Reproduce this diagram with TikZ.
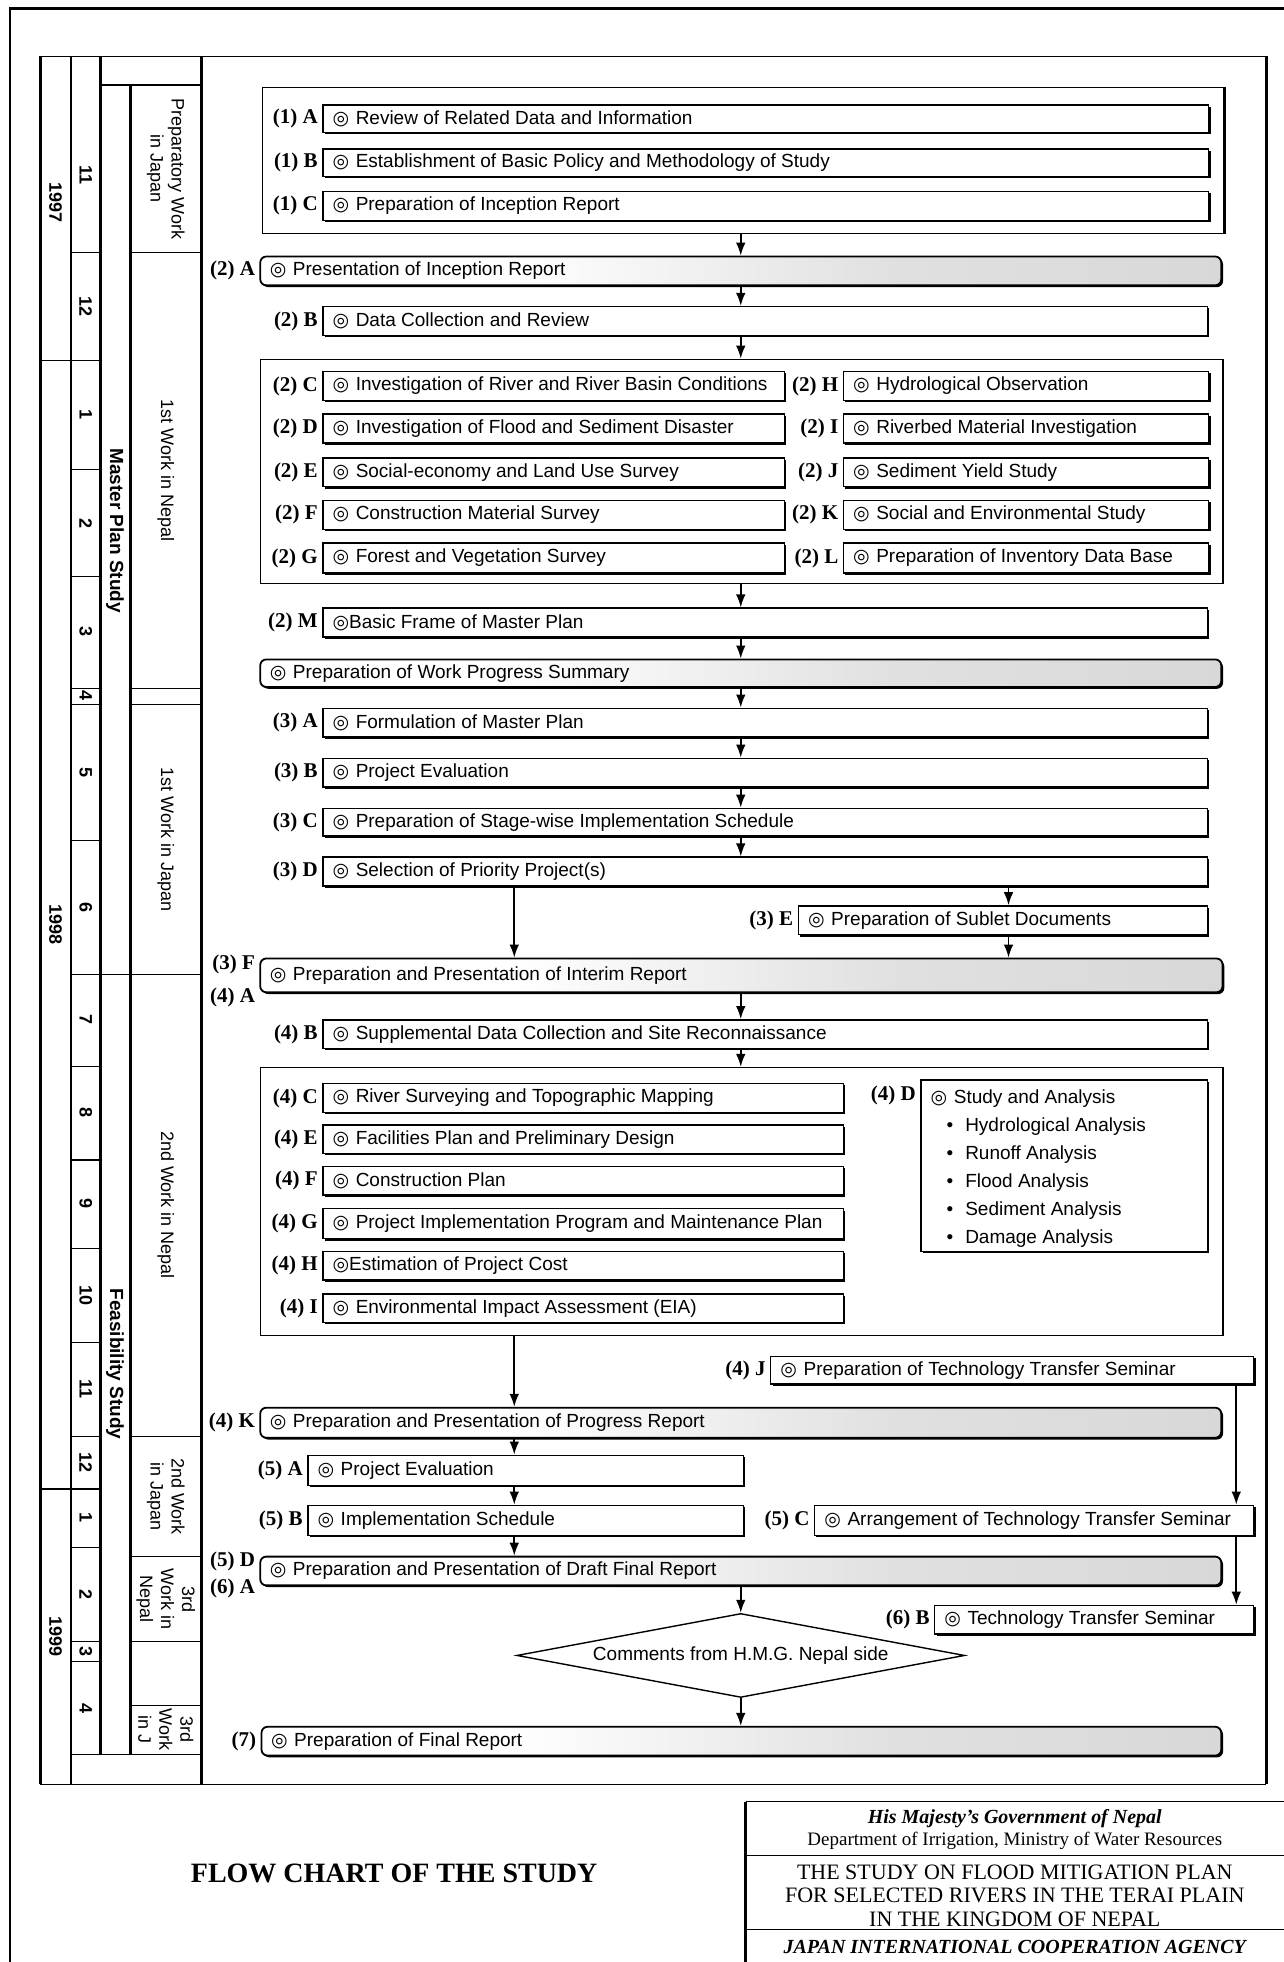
\documentclass[tikz,border=0pt]{standalone}
\usepackage{fontspec}
\setmainfont{Liberation Serif}
\setsansfont{Liberation Sans}
\newfontfamily\symf{DejaVu Sans}
\usetikzlibrary{arrows.meta,shadows,shapes.geometric,calc}
\pgfdeclarehorizontalshading{grayfade}{100bp}{color(0bp)=(white); color(38bp)=(white); color(58bp)=(black!12); color(100bp)=(black!20)}
\newcommand\dc{{\symf ◎}\hspace{0.35em}}
\newcommand\mkrect[6]{%
  \pgfmathsetmacro\bxc{(#3+#5)/2}%
  \pgfmathsetmacro\byc{(#4+#6)/2}%
  \pgfmathsetmacro\bxw{(#5-#3)*0.6258}%
  \pgfmathsetmacro\byh{(#6-#4)*0.6258}%
  \node[#1, minimum width=\bxw pt, minimum height=\byh pt] (#2) at (\bxc,\byc) {};}
\newcommand\mkbox[7]{%
  \mkrect{#1}{#2}{#3}{#4}{#5}{#6}%
  \node[btext, anchor=west] (#2-t) at ([xshift=5pt]#2.west) {\dc #7};}
\newcommand\lab[3]{\node[labf, anchor=east] (#1) at ([xshift=-2pt]#2.west) {#3};}
\tikzset{
  x=0.6258pt, y=-0.6258pt,
  task/.style={draw, line width=0.7pt, fill=white, inner sep=0pt,
    drop shadow={shadow xshift=0.9pt, shadow yshift=-0.9pt, opacity=1, fill=black}},
  rep/.style={draw, line width=0.9pt, rounded corners=3pt, shading=grayfade, inner sep=0pt,
    drop shadow={shadow xshift=0.9pt, shadow yshift=-0.9pt, opacity=1, fill=black}},
  grp/.style={draw, line width=0.5pt, inner sep=0pt},
  btext/.style={font=\sffamily\fontsize{9.5}{11}\selectfont, inner sep=0pt},
  labf/.style={font=\bfseries\fontsize{10.5}{12}\selectfont, inner sep=0pt},
  arr/.style={line width=0.8pt, -{Latex[length=6.5pt,width=4.8pt]}},
  vyr/.style={font=\sffamily\bfseries\fontsize{9}{10}\selectfont, rotate=-90, inner sep=0pt},
  vph/.style={font=\sffamily\fontsize{9}{10.5}\selectfont, rotate=-90, align=center, inner sep=0pt},
  vst/.style={font=\sffamily\bfseries\fontsize{9.5}{11}\selectfont, rotate=-90, inner sep=0pt},
  thin/.style={line width=0.6pt},
  thick2/.style={line width=1.5pt},
}
\begin{document}
\begin{tikzpicture}
\useasboundingbox[fill=white] (0,0) rectangle (1026,1568);
% outer frame
\draw[line width=1.3pt] (8,1568) -- (8,7) -- (1026,7);
% inner frame
\draw[thin] (32,45) -- (1012,45);
\draw[thin] (32,1426) -- (1012,1426);
\draw[thick2] (32,45) -- (32,1426);
\draw[thick2] (1012,45) -- (1012,1426);
% left columns
\draw[line width=1pt] (57,45) -- (57,1426);
\draw[thick2] (80,45) -- (80,1402);
\draw[thick2] (104,68) -- (104,1402);
\draw[thick2] (161,45) -- (161,1426);
\draw[thin] (80,68) -- (161,68);
\foreach \yy in {202,288,375,461,550,563,672,779,852,927,998,1073,1148,1190,1237,1312,1328,1402}
  \draw[thin] (57,\yy) -- (80,\yy);
\foreach \yy in {288,1190} \draw[thin] (32,\yy) -- (57,\yy);
\draw[thin] (80,779) -- (104,779);
\foreach \yy in {202,550,563,779,1148,1244,1312,1363} \draw[thin] (104,\yy) -- (161,\yy);
\draw[thin] (57,1402) -- (161,1402);
% years
\node[vyr] (y97) at (44.5,162) {1997};
\node[vyr] (y98) at (44.5,739) {1998};
\node[vyr] (y99) at (44.5,1308) {1999};
% months
\foreach \nm/\yy/\tx in {m1/140/11,m2/245/12,m3/331/1,m4/418/2,m5/505/3,m6/556/4,m7/617/5,m8/725/6,m9/815/7,m10/889/8,m11/962/9,m12/1035/10,m13/1110/11,m14/1169/12,m15/1213/1,m16/1274/2,m17/1320/3,m18/1365/4}
  \node[vyr] (\nm) at (68.5,\yy) {\tx};
% study columns
\node[vst] (mps) at (92,424) {Master Plan Study};
\node[vst] (fs) at (92,1090) {Feasibility Study};
% phases
\node[vph] (ph1) at (132.5,135) {Preparatory Work\\in Japan};
\node[vph] (ph2) at (132.5,376) {1st Work in Nepal};
\node[vph] (ph3) at (132.5,671) {1st Work in Japan};
\node[vph] (ph4) at (132.5,963) {2nd Work in Nepal};
\node[vph] (ph5) at (132.5,1196) {2nd Work\\in Japan};
\node[vph] (ph6) at (132.5,1278) {3rd\\Work in\\Nepal};
\node[vph] (ph7) at (132.5,1382) {3rd\\Work\\in J};
% group 1
\mkrect{grp}{g1}{210}{70}{978}{187}
\draw[line width=1.3pt] (g1.north east) -- (g1.south east);
\mkbox{task}{A1}{258}{84}{966}{106}{Review of Related Data and Information}
\lab{A1l}{A1}{(1) A}
\mkbox{task}{B1}{258}{119}{966}{141}{Establishment of Basic Policy and Methodology of Study}
\lab{B1l}{B1}{(1) B}
\mkbox{task}{C1}{258}{153}{966}{176}{Preparation of Inception Report}
\lab{C1l}{C1}{(1) C}
\mkbox{rep}{A2}{208}{205}{976}{228}{Presentation of Inception Report}
\lab{A2l}{A2}{(2) A}
\mkbox{task}{B2}{258}{245}{965}{268}{Data Collection and Review}
\lab{B2l}{B2}{(2) B}
% group 2
\mkrect{grp}{g2}{208}{287}{977}{466}
\draw[line width=1.3pt] (g2.north east) -- (g2.south east);
\mkbox{task}{C2}{258}{297}{627}{320}{Investigation of River and River Basin Conditions}
\lab{C2l}{C2}{(2) C}
\mkbox{task}{D2}{258}{331}{627}{354}{Investigation of Flood and Sediment Disaster}
\lab{D2l}{D2}{(2) D}
\mkbox{task}{E2}{258}{366}{627}{389}{Social-economy and Land Use Survey}
\lab{E2l}{E2}{(2) E}
\mkbox{task}{F2}{258}{400}{627}{423}{Construction Material Survey}
\lab{F2l}{F2}{(2) F}
\mkbox{task}{G2}{258}{434}{627}{458}{Forest and Vegetation Survey}
\lab{G2l}{G2}{(2) G}
\mkbox{task}{H2}{674}{297}{966}{320}{Hydrological Observation}
\lab{H2l}{H2}{(2) H}
\mkbox{task}{I2}{674}{331}{966}{354}{Riverbed Material Investigation}
\lab{I2l}{I2}{(2) I}
\mkbox{task}{J2}{674}{366}{966}{389}{Sediment Yield Study}
\lab{J2l}{J2}{(2) J}
\mkbox{task}{K2}{674}{400}{966}{423}{Social and Environmental Study}
\lab{K2l}{K2}{(2) K}
\mkbox{task}{L2}{674}{434}{966}{458}{Preparation of Inventory Data Base}
\lab{L2l}{L2}{(2) L}
\mkbox{task}{M2}{258}{486}{965}{509}{\hspace{-0.35em}Basic Frame of Master Plan}
\lab{M2l}{M2}{(2) M}
\mkbox{rep}{WP}{208}{527}{976}{549}{Preparation of Work Progress Summary}
\mkbox{task}{A3}{258}{566}{965}{589}{Formulation of Master Plan}
\lab{A3l}{A3}{(3) A}
\mkbox{task}{B3}{258}{606}{965}{629}{Project Evaluation}
\lab{B3l}{B3}{(3) B}
\mkbox{task}{C3}{258}{646}{965}{668}{Preparation of Stage-wise Implementation Schedule}
\lab{C3l}{C3}{(3) C}
\mkbox{task}{D3}{258}{685}{965}{708}{Selection of Priority Project(s)}
\lab{D3l}{D3}{(3) D}
\mkbox{task}{E3}{638}{724}{965}{747}{Preparation of Sublet Documents}
\lab{E3l}{E3}{(3) E}
\mkbox{rep}{F3}{208}{766}{977}{793}{Preparation and Presentation of Interim Report}
\node[labf, anchor=east] (F3l) at ([xshift=-2pt,yshift=-3.5pt]F3.north west) {(3) F};
\node[labf, anchor=east] (A4l) at ([xshift=-2pt,yshift=-2pt]F3.south west) {(4) A};
\mkbox{task}{B4}{258}{815}{965}{838}{Supplemental Data Collection and Site Reconnaissance}
\lab{B4l}{B4}{(4) B}
% group 3
\mkrect{grp}{g3}{208}{853}{977}{1067}
\draw[line width=1.3pt] (g3.north east) -- (g3.south east);
\mkbox{task}{C4}{258}{866}{674}{889}{River Surveying and Topographic Mapping}
\lab{C4l}{C4}{(4) C}
\mkbox{task}{E4}{258}{899}{674}{922}{Facilities Plan and Preliminary Design}
\lab{E4l}{E4}{(4) E}
\mkbox{task}{F4}{258}{932}{674}{955}{Construction Plan}
\lab{F4l}{F4}{(4) F}
\mkbox{task}{G4}{258}{966}{674}{990}{Project Implementation Program and Maintenance Plan}
\lab{G4l}{G4}{(4) G}
\mkbox{task}{H4}{258}{1000}{674}{1023}{\hspace{-0.35em}Estimation of Project Cost}
\lab{H4l}{H4}{(4) H}
\mkbox{task}{I4}{258}{1034}{674}{1057}{Environmental Impact Assessment (EIA)}
\lab{I4l}{I4}{(4) I}
\mkrect{task}{D4}{736}{863}{965}{1000}
\node[labf, anchor=north east] (D4l) at ([xshift=-2pt,yshift=-3pt]D4.north west) {(4) D};
\node[btext, anchor=north west, align=left, font=\sffamily\fontsize{9.5}{14}\selectfont] (D4-t) at ([xshift=5pt,yshift=-5pt]D4.north west)
  {\dc Study and Analysis\\
   \hspace{8pt}\textbullet\hspace{6pt}Hydrological Analysis\\
   \hspace{8pt}\textbullet\hspace{6pt}Runoff Analysis\\
   \hspace{8pt}\textbullet\hspace{6pt}Flood Analysis\\
   \hspace{8pt}\textbullet\hspace{6pt}Sediment Analysis\\
   \hspace{8pt}\textbullet\hspace{6pt}Damage Analysis};
\mkbox{task}{J4}{616}{1084}{1002}{1106}{Preparation of Technology Transfer Seminar}
\lab{J4l}{J4}{(4) J}
\mkbox{rep}{K4}{208}{1125}{976}{1149}{Preparation and Presentation of Progress Report}
\lab{K4l}{K4}{(4) K}
\mkbox{task}{A5}{246}{1163}{594}{1187}{Project Evaluation}
\lab{A5l}{A5}{(5) A}
\mkbox{task}{B5}{246}{1203}{594}{1227}{Implementation Schedule}
\lab{B5l}{B5}{(5) B}
\mkbox{task}{C5}{651}{1203}{1002}{1227}{Arrangement of Technology Transfer Seminar}
\lab{C5l}{C5}{(5) C}
\mkbox{rep}{D5}{208}{1244}{976}{1267}{Preparation and Presentation of Draft Final Report}
\node[labf, anchor=east] (D5l) at ([xshift=-2pt,yshift=-3pt]D5.north west) {(5) D};
\node[labf, anchor=east] (A6l) at ([xshift=-2pt,yshift=-1pt]D5.south west) {(6) A};
\mkbox{task}{B6}{747}{1283}{1002}{1306}{Technology Transfer Seminar}
\lab{B6l}{B6}{(6) B}
\node[draw, shape=diamond, aspect=5.34, line width=0.7pt, minimum width=224pt, minimum height=42pt, inner sep=0pt,
  font=\sffamily\fontsize{9.5}{11}\selectfont] (dm) at (592,1323) {Comments from H.M.G. Nepal side};
\mkbox{rep}{S7}{209}{1380}{976}{1403}{Preparation of Final Report}
\lab{S7l}{S7}{(7)}
% connectors
\coordinate (xL) at (411,0);
\coordinate (xM) at (592,0);
\coordinate (xE) at (806,0);
\coordinate (xR) at (988,0);
\draw[arr] (g1.south -| xM) -- (A2.north -| xM);
\draw[arr] (A2.south -| xM) -- (B2.north -| xM);
\draw[arr] (B2.south -| xM) -- (g2.north -| xM);
\draw[arr] (g2.south -| xM) -- (M2.north -| xM);
\draw[arr] (M2.south -| xM) -- (WP.north -| xM);
\draw[arr] (WP.south -| xM) -- (A3.north -| xM);
\draw[arr] (A3.south -| xM) -- (B3.north -| xM);
\draw[arr] (B3.south -| xM) -- (C3.north -| xM);
\draw[arr] (C3.south -| xM) -- (D3.north -| xM);
\draw[arr] (D3.south -| xL) -- (F3.north -| xL);
\draw[arr] (D3.south -| xE) -- (E3.north -| xE);
\draw[arr] (E3.south -| xE) -- (F3.north -| xE);
\draw[arr] (F3.south -| xM) -- (B4.north -| xM);
\draw[arr] (B4.south -| xM) -- (g3.north -| xM);
\draw[arr] (g3.south -| xL) -- (K4.north -| xL);
\draw[arr] (J4.south -| xR) -- (C5.north -| xR);
\draw[arr] (C5.south -| xR) -- (B6.north -| xR);
\draw[arr] (K4.south -| xL) -- (A5.north -| xL);
\draw[arr] (A5.south -| xL) -- (B5.north -| xL);
\draw[arr] (B5.south -| xL) -- (D5.north -| xL);
\draw[arr] (D5.south -| xM) -- (dm.north);
\draw[arr] (dm.south) -- (S7.north -| xM);
% bottom title
\node[font=\bfseries\fontsize{14}{16}\selectfont, inner sep=0pt] (ttl) at (315,1497) {FLOW CHART OF THE STUDY};
\draw[line width=1.4pt] (596,1568) -- (596,1440);
\draw[thin] (596,1440) -- (1026,1440);
\draw[thin] (596,1483) -- (1026,1483);
\draw[thin] (596,1542) -- (1026,1542);
\node[font=\bfseries\itshape\fontsize{10}{12}\selectfont, inner sep=0pt] (tb1) at (811,1453) {His Majesty's Government of Nepal};
\node[font=\fontsize{9.5}{11}\selectfont, inner sep=0pt] (tb2) at (811,1471) {Department of Irrigation, Ministry of Water Resources};
\node[font=\fontsize{11}{11.8}\selectfont, align=center, inner sep=0pt] (tb3) at (811,1515) {THE STUDY ON FLOOD MITIGATION PLAN\\FOR SELECTED RIVERS IN THE TERAI PLAIN\\IN THE KINGDOM OF NEPAL};
\node[font=\bfseries\itshape\fontsize{10}{12}\selectfont, inner sep=0pt] (tb4) at (811,1556) {JAPAN INTERNATIONAL COOPERATION AGENCY};
\end{tikzpicture}
\end{document}
